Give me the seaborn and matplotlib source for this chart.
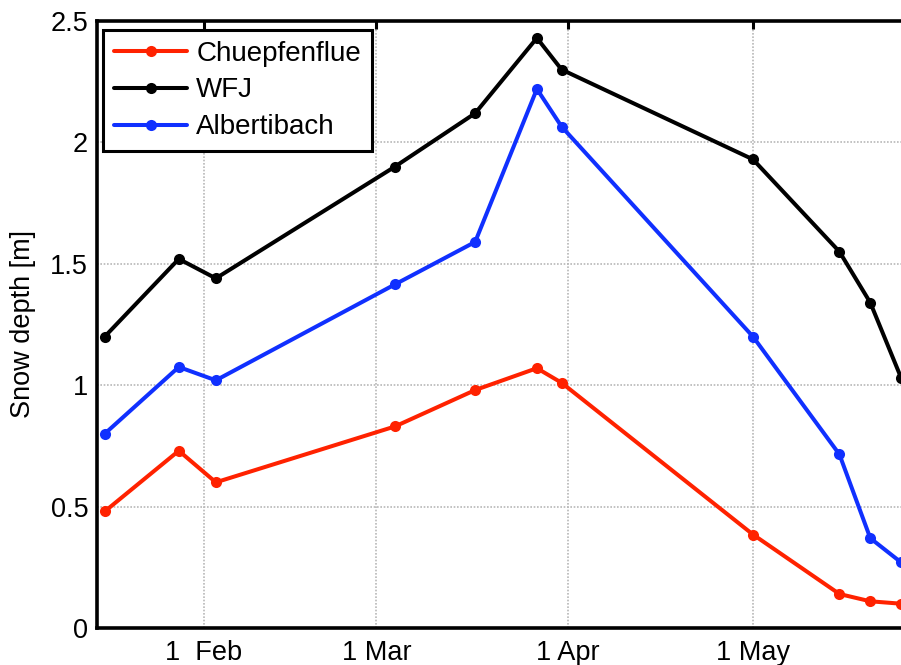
import numpy as np
import pandas as pd
import matplotlib
matplotlib.use("Agg")
import matplotlib.pyplot as plt
import matplotlib.dates as mdates
import seaborn as sns

# Measurement dates and snow depth [m] at the three sites
dates = ["2011-01-16", "2011-01-28", "2011-02-03", "2011-03-04", "2011-03-17",
         "2011-03-27", "2011-03-31", "2011-05-01", "2011-05-15", "2011-05-20",
         "2011-05-25"]
chuepfenflue = [0.48, 0.73, 0.60, 0.83, 0.98, 1.07, 1.01, 0.385, 0.14, 0.11, 0.10]
wfj = [1.20, 1.52, 1.44, 1.90, 2.12, 2.43, 2.30, 1.93, 1.55, 1.34, 1.03]
albertibach = [0.80, 1.075, 1.02, 1.415, 1.59, 2.22, 2.065, 1.20, 0.715, 0.37, 0.27]

sites = ["Chuepfenflue", "WFJ", "Albertibach"]
colors = ["#ff2200", "#000000", "#1030ff"]

tick_dates = ["2011-02-01", "2011-03-01", "2011-04-01", "2011-05-01"]
tick_labels = ["1  Feb", "1 Mar", "1 Apr", "1 May"]
y_ticks = [0, 0.5, 1, 1.5, 2, 2.5]
y_labels = ["0", "0.5", "1", "1.5", "2", "2.5"]

frames = []
for name, vals in zip(sites, [chuepfenflue, wfj, albertibach]):
    frames.append(pd.DataFrame({"date": pd.to_datetime(dates),
                                "depth": vals, "site": name}))
df = pd.concat(frames, ignore_index=True)

sns.set_style("white")
plt.rcParams["font.family"] = ["Liberation Sans", "DejaVu Sans"]
plt.rcParams["text.color"] = "black"
plt.rcParams["axes.labelcolor"] = "black"
plt.rcParams["xtick.color"] = "black"
plt.rcParams["ytick.color"] = "black"
FS = 19.5

W, H = 901, 665
fig = plt.figure(figsize=(W / 100, H / 100), dpi=100)
# axes box: left spine at x=96.5 px, top at 21 px, bottom at 628 px;
# the right side runs past the figure edge
ax_left, ax_right, ax_top, ax_bottom = 96.5, 930.0, 21.0, 628.0
ax = fig.add_axes([ax_left / W, (H - ax_bottom) / H,
                   (ax_right - ax_left) / W, (ax_bottom - ax_top) / H])

for name, col in zip(sites, colors):
    sns.lineplot(data=df[df["site"] == name], x="date", y="depth", ax=ax,
                 color=col, linewidth=2.9, marker="o", markersize=8,
                 markeredgewidth=0, label=name, legend=False, zorder=3)

feb1 = mdates.date2num(pd.Timestamp("2011-02-01"))
px_per_day = 6.174
ax.set_xlim(feb1 + (ax_left - 203.5) / px_per_day,
            feb1 + (ax_right - 203.5) / px_per_day)
ax.set_ylim(0, 2.5)

ax.set_xticks(mdates.date2num(pd.to_datetime(tick_dates)))
ax.set_xticklabels(tick_labels)
ax.set_yticks(y_ticks)
ax.set_yticklabels(y_labels)

ax.set_xlabel("")
ax.set_ylabel("Snow depth [m]", fontsize=FS, labelpad=10)

ax.tick_params(axis="both", direction="in", length=6, width=2.2,
               labelsize=FS, top=True, right=True, color="black",
               labelcolor="black")
ax.tick_params(axis="x", pad=9)
ax.tick_params(axis="y", pad=6)

for sp in ax.spines.values():
    sp.set_visible(True)
    sp.set_linewidth(2.6)
    sp.set_color("black")

ax.grid(True, linestyle=(0, (1, 1)), color="#b8b8b8", linewidth=1.2, zorder=0)
ax.set_axisbelow(True)

leg = ax.legend(loc="upper left", bbox_to_anchor=(0.008, 0.985),
                fontsize=20, frameon=True, fancybox=False, framealpha=1,
                edgecolor="black", handlelength=2.65, handletextpad=0.32,
                labelspacing=0.39, borderpad=0.38, borderaxespad=0.0)
leg.get_frame().set_linewidth(2.2)
for t in leg.get_texts():
    t.set_color("black")

fig.savefig("out.png", dpi=100)
